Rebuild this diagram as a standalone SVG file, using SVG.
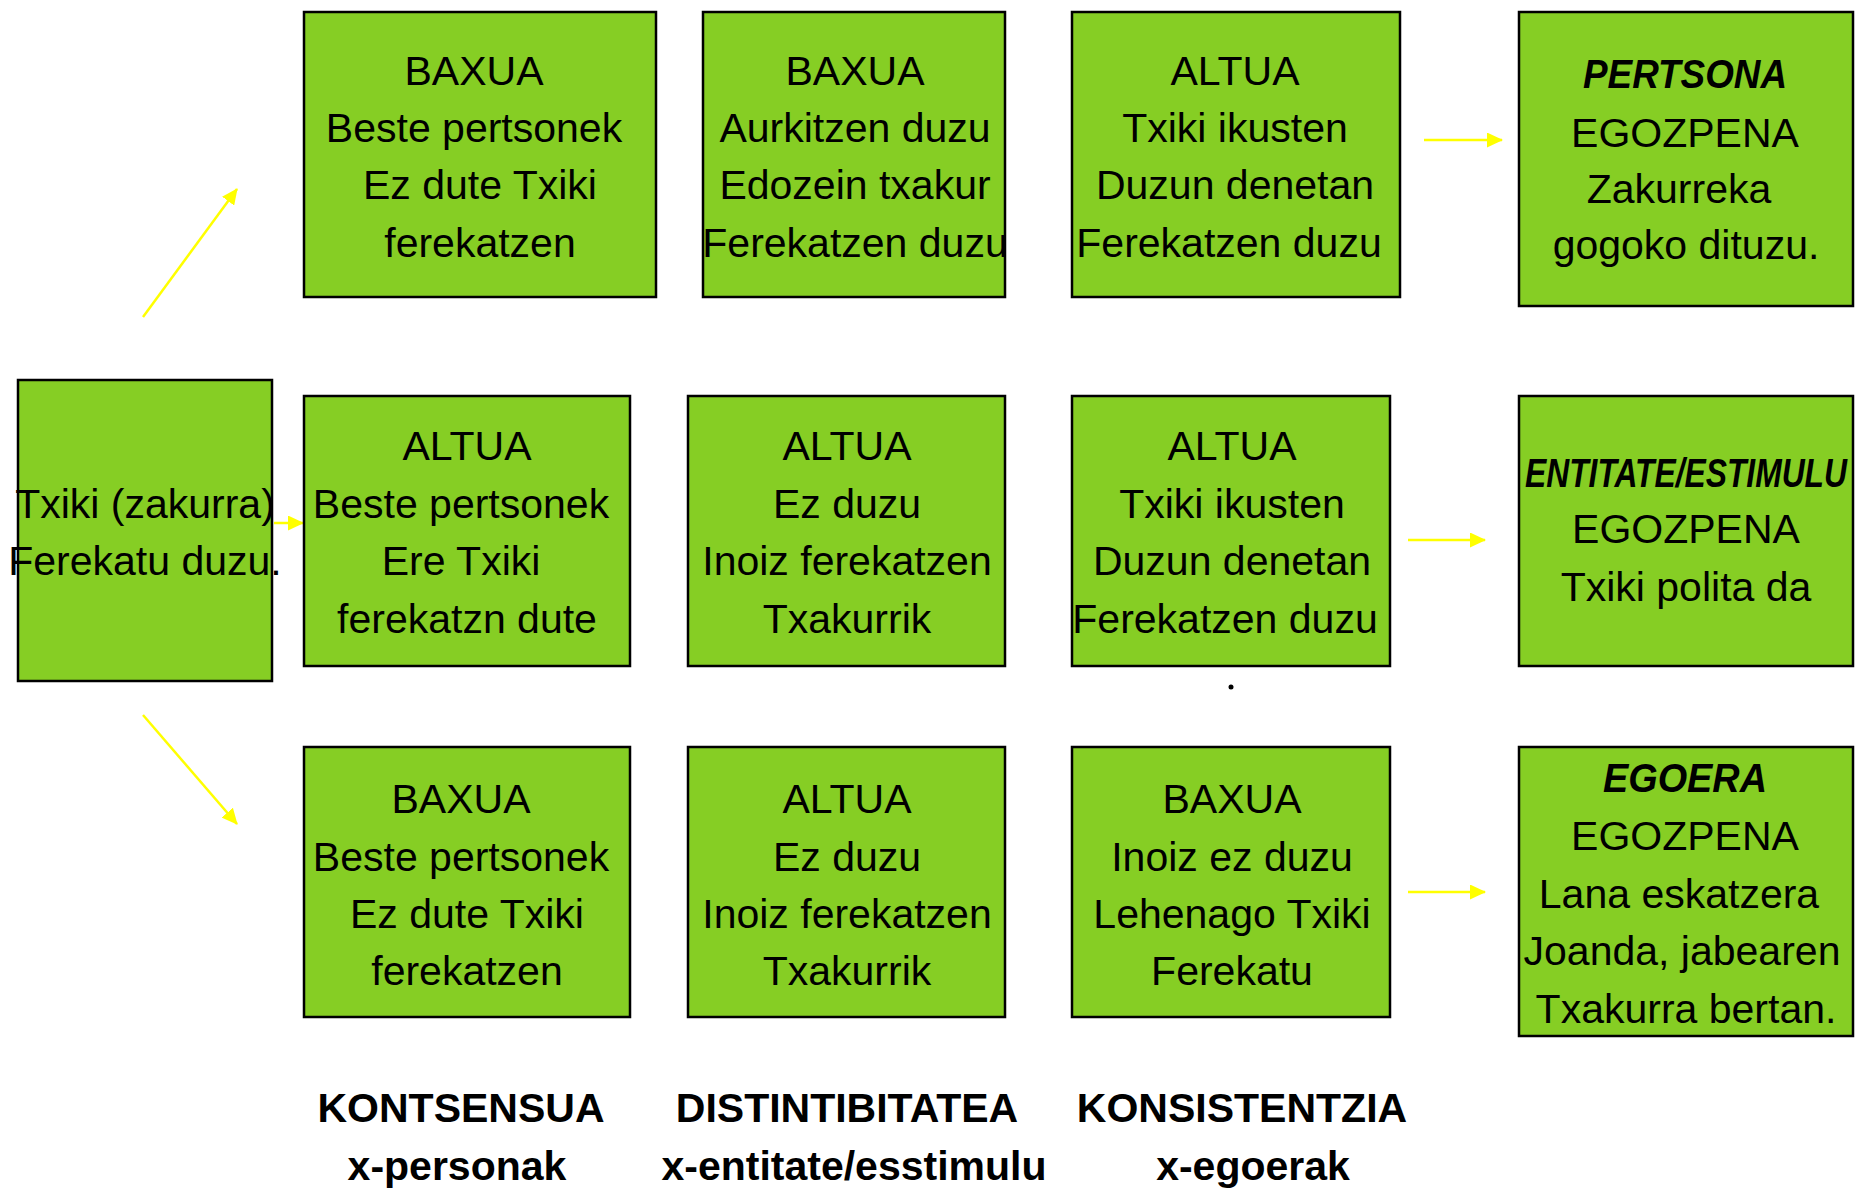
<svg xmlns="http://www.w3.org/2000/svg" width="1857" height="1189" viewBox="0 0 1857 1189">
<style>
.box{fill:#86CE24;stroke:#000;stroke-width:2.5}
text{font-family:"Liberation Sans",Arial,sans-serif;font-size:41px;fill:#000;text-anchor:middle}
.bi{font-weight:bold;font-style:italic}
.b{font-weight:bold}
.arr{stroke:#FFFF00;stroke-width:2.5;fill:none;marker-end:url(#ah)}
</style>
<defs>
<marker id="ah" viewBox="0 0 16 15" refX="15" refY="7.5" markerWidth="16" markerHeight="15" orient="auto" markerUnits="userSpaceOnUse">
<path d="M0,0 L16,7.5 L0,15 z" fill="#FFFF00"/>
</marker>
</defs>
<rect width="1857" height="1189" fill="#fff"/>

<g id="connectors">
<line class="arr" x1="143" y1="317" x2="237" y2="189"/>
<line class="arr" x1="143" y1="715" x2="237" y2="824"/>
<line class="arr" x1="274" y1="523" x2="303" y2="523"/>
<line class="arr" x1="1424" y1="140" x2="1502" y2="140"/>
<line class="arr" x1="1408" y1="540" x2="1485" y2="540"/>
<line class="arr" x1="1408" y1="892" x2="1485" y2="892"/>
</g>

<g id="n-start">
<rect class="box" x="18" y="380" width="254" height="301"/>
<text x="145" y="518">Txiki (zakurra)</text>
<text x="145" y="575">Ferekatu duzu.</text>
</g>

<g id="n-r1c1">
<rect class="box" x="304" y="12" width="352" height="285"/>
<text x="474" y="85">BAXUA</text>
<text x="474" y="142">Beste pertsonek</text>
<text x="480" y="199">Ez dute Txiki</text>
<text x="480" y="257">ferekatzen</text>
</g>
<g id="n-r1c2">
<rect class="box" x="703" y="12" width="302" height="285"/>
<text x="855" y="85">BAXUA</text>
<text x="855" y="142">Aurkitzen duzu</text>
<text x="855" y="199">Edozein txakur</text>
<text x="855" y="257">Ferekatzen duzu</text>
</g>
<g id="n-r1c3">
<rect class="box" x="1072" y="12" width="328" height="285"/>
<text x="1235" y="85">ALTUA</text>
<text x="1235" y="142">Txiki ikusten</text>
<text x="1235" y="199">Duzun denetan</text>
<text x="1229" y="257">Ferekatzen duzu</text>
</g>
<g id="n-r1c4">
<rect class="box" x="1519" y="12" width="334" height="294"/>
<text class="bi" x="1685" y="88" textLength="204" lengthAdjust="spacingAndGlyphs">PERTSONA</text>
<text x="1685" y="147">EGOZPENA</text>
<text x="1679" y="203">Zakurreka</text>
<text x="1686" y="259">gogoko dituzu.</text>
</g>

<g id="n-r2c1">
<rect class="box" x="304" y="396" width="326" height="270"/>
<text x="467" y="460">ALTUA</text>
<text x="461" y="518">Beste pertsonek</text>
<text x="461" y="575">Ere Txiki</text>
<text x="467" y="633">ferekatzn dute</text>
</g>
<g id="n-r2c2">
<rect class="box" x="688" y="396" width="317" height="270"/>
<text x="847" y="460">ALTUA</text>
<text x="847" y="518">Ez duzu</text>
<text x="847" y="575">Inoiz ferekatzen</text>
<text x="847" y="633">Txakurrik</text>
</g>
<g id="n-r2c3">
<rect class="box" x="1072" y="396" width="318" height="270"/>
<text x="1232" y="460">ALTUA</text>
<text x="1232" y="518">Txiki ikusten</text>
<text x="1232" y="575">Duzun denetan</text>
<text x="1225" y="633">Ferekatzen duzu</text>
</g>
<g id="n-r2c4">
<rect class="box" x="1519" y="396" width="334" height="270"/>
<text class="bi" x="1686" y="487" textLength="322" lengthAdjust="spacingAndGlyphs">ENTITATE/ESTIMULU</text>
<text x="1686" y="543">EGOZPENA</text>
<text x="1686" y="601">Txiki polita da</text>
</g>

<circle cx="1231" cy="687" r="2.5" fill="#000"/>

<g id="n-r3c1">
<rect class="box" x="304" y="747" width="326" height="270"/>
<text x="461" y="813">BAXUA</text>
<text x="461" y="871">Beste pertsonek</text>
<text x="467" y="928">Ez dute Txiki</text>
<text x="467" y="985">ferekatzen</text>
</g>
<g id="n-r3c2">
<rect class="box" x="688" y="747" width="317" height="270"/>
<text x="847" y="813">ALTUA</text>
<text x="847" y="871">Ez duzu</text>
<text x="847" y="928">Inoiz ferekatzen</text>
<text x="847" y="985">Txakurrik</text>
</g>
<g id="n-r3c3">
<rect class="box" x="1072" y="747" width="318" height="270"/>
<text x="1232" y="813">BAXUA</text>
<text x="1232" y="871">Inoiz ez duzu</text>
<text x="1232" y="928">Lehenago Txiki</text>
<text x="1232" y="985">Ferekatu</text>
</g>
<g id="n-r3c4">
<rect class="box" x="1519" y="747" width="334" height="289"/>
<text class="bi" x="1685" y="792" textLength="164" lengthAdjust="spacingAndGlyphs">EGOERA</text>
<text x="1685" y="850">EGOZPENA</text>
<text x="1679" y="908">Lana eskatzera</text>
<text x="1682" y="965">Joanda, jabearen</text>
<text x="1686" y="1023">Txakurra bertan.</text>
</g>

<g id="labels">
<text class="b" x="461" y="1122">KONTSENSUA</text>
<text class="b" x="457" y="1180">x-personak</text>
<text class="b" x="847" y="1122">DISTINTIBITATEA</text>
<text class="b" x="854" y="1180">x-entitate/esstimulu</text>
<text class="b" x="1242" y="1122">KONSISTENTZIA</text>
<text class="b" x="1253" y="1180">x-egoerak</text>
</g>
</svg>
